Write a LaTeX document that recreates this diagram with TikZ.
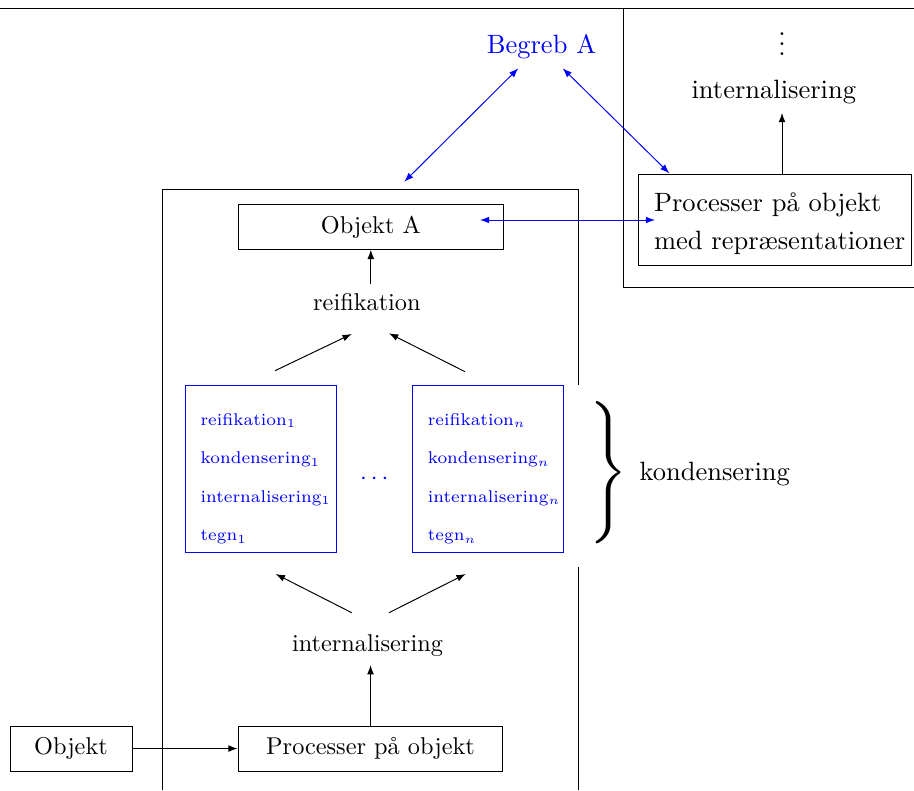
\documentclass[tikz,border=0pt]{standalone}
\usetikzlibrary{arrows.meta}
\begin{document}
\begin{tikzpicture}[x=0.4115pt,y=-0.4115pt,
  line width=0.4pt,
  arr/.style={-{Latex[length=3.8pt,width=2.8pt]}},
  barr/.style={blue,{Latex[length=3.8pt,width=2.8pt]}-{Latex[length=3.8pt,width=2.8pt]}},
  box/.style={draw, inner sep=0pt, minimum width=109pt, minimum height=18.5pt},
  bluebox/.style={draw=blue, text=blue, inner sep=0pt, minimum width=62.1pt,
    minimum height=68.6pt, text width=62.1pt, align=left,
    font=\fontsize{7}{15.8}\selectfont},
  big/.style={font=\fontsize{10.9}{13}\selectfont}
]
\useasboundingbox (0,0) rectangle (914,790);

% frames
\draw (0,8) -- (914,8);
\draw (623.7,8) -- (623.7,287.3) -- (914,287.3);
\draw (162.5,790) -- (162.5,189.5) -- (578.5,189.5) -- (578.5,385);
\draw (578.5,567.3) -- (578.5,790);

% right part
\node[big] (vd) at (782,37) {$\vdots$};
\node[big] (int2) at (773.8,92.4) {internalisering};
\node[draw, inner sep=0pt, minimum width=112.2pt, minimum height=37.6pt,
  text width=112.2pt, align=left, font=\fontsize{10.9}{15.8}\selectfont]
  (procrep) at (775.3,219.7)
  {\hspace*{6.2pt}\rule{0pt}{11pt}Processer på objekt\\
   \hspace*{6.2pt}med repræsentationer};
\draw[arr] (procrep.north -| vd) -- (int2.south -| vd);

% Begreb A
\node[big, text=blue] (begreb) at (541.5,46.8) {Begreb A};

% middle column
\node[box] (objA) at (370.8,226.8) {Objekt A};
\node (reif) at (366.9,301.6) {reifikation};
\draw[arr] (objA.south |- reif.north) -- (objA.south);

\coordinate (bA1) at (518.3,68.3);
\coordinate (bA2) at (562.7,68.3);
\coordinate (oA) at (404.3,181.7);
\coordinate (pR) at (669.3,173.3);
\coordinate (oAr) at (480,220);
\coordinate (pRl) at (655,220);
\draw[barr] (oA) -- (bA1);
\draw[barr] (bA2) -- (pR);
\draw[barr] (oAr) -- (pRl);

\coordinate (u1s) at (275,370.7);
\coordinate (u1e) at (351.7,334);
\coordinate (u2s) at (465,371.7);
\coordinate (u2e) at (389,333.3);
\draw[arr] (u1s) -- (u1e);
\draw[arr] (u2s) -- (u2e);

\node[bluebox] (bl) at (260.8,469)
  {\hspace*{6.3pt}\rule{0pt}{13pt}reifikation$_1$\\
   \hspace*{6.3pt}kondensering$_1$\\
   \hspace*{6.3pt}internalisering$_1$\\
   \hspace*{6.3pt}tegn$_1$};
\node[bluebox] (br) at (488,469)
  {\hspace*{6.3pt}\rule{0pt}{13pt}reifikation$_n$\\
   \hspace*{6.3pt}kondensering$_n$\\
   \hspace*{6.3pt}internalisering$_n$\\
   \hspace*{6.3pt}tegn$_n$};
\node[text=blue] (dots) at (374.3,479) {$\cdots$};

\node[font=\fontsize{10}{12}\selectfont, inner sep=0pt, scale=1.95] (brace) at (606,472.9)
  {$\left.\vrule height 16.5pt depth 11.5pt width 0pt\right\}$};
\node[big] (kond) at (714.7,474) {kondensering};

\coordinate (l1s) at (351.7,612.7);
\coordinate (l1e) at (275.7,574);
\coordinate (l2s) at (389,612.7);
\coordinate (l2e) at (465.7,574);
\draw[arr] (l1s) -- (l1e);
\draw[arr] (l2s) -- (l2e);

\node (int1) at (367.5,645.6) {internalisering};
\node[box] (proc) at (370.5,748.5) {Processer på objekt};
\draw[arr] (proc.north) -- (proc.north |- int1.south);

\node[box, minimum width=50.2pt] (obj) at (71,748.5) {Objekt};
\draw[arr] (obj) -- (proc);
\end{tikzpicture}
\end{document}
